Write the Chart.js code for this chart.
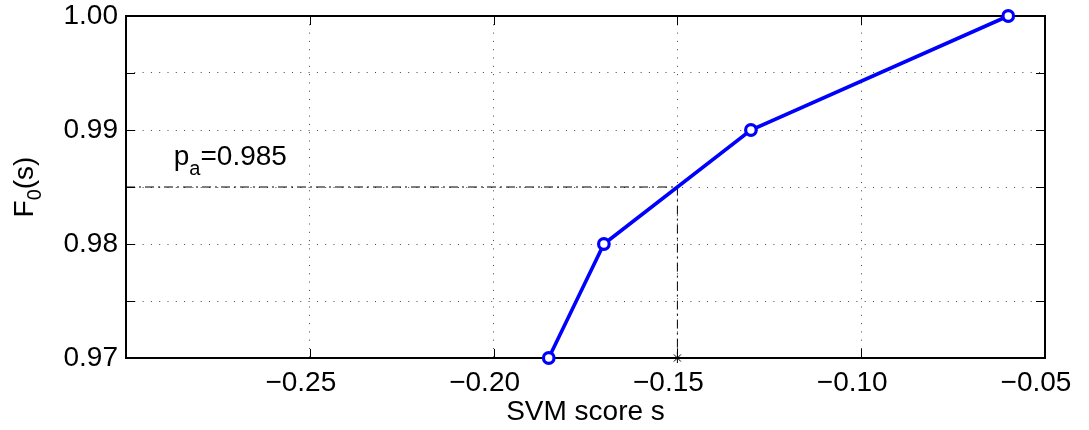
<!DOCTYPE html>
<html>
<head>
<meta charset="utf-8">
<script src="https://cdn.jsdelivr.net/npm/chart.js@4"></script>
<style>
  html, body { margin: 0; padding: 0; background: #fff; }
</style>
</head>
<body>
<canvas id="chart" width="1089" height="430"></canvas>
<script>
// F0(s) against the SVM score
const scores = [-0.185, -0.170, -0.130, -0.060];
const fValues = [0.97, 0.98, 0.99, 1.00];

// operating point p_a
const paLevel = 0.985;
const paScore = -0.15;

const xTicks = [-0.30, -0.25, -0.20, -0.15, -0.10, -0.05];
const yTicks = [0.970, 0.975, 0.980, 0.985, 0.990, 0.995, 1.000];
const xRange = [-0.30, -0.05];
const yRange = [0.97, 1.00];

const FONT = '"Liberation Sans", Arial, Helvetica, sans-serif';

const curve = scores.map((s, i) => ({ x: s, y: fValues[i] }));
const guide = [
  { x: xRange[0], y: paLevel },
  { x: paScore, y: paLevel },
  { x: paScore, y: yRange[0] },
];

// box round the plot with inward ticks on every side
const framePlugin = {
  id: "frame",
  beforeDatasetsDraw(chart) {
    const { ctx, chartArea: a, scales } = chart;
    ctx.save();
    ctx.strokeStyle = "#000";
    ctx.lineWidth = 1;
    ctx.beginPath();
    xTicks.forEach((v) => {
      const px = Math.round(scales.x.getPixelForValue(v)) + 0.5;
      ctx.moveTo(px, a.bottom); ctx.lineTo(px, a.bottom - 9);
      ctx.moveTo(px, a.top); ctx.lineTo(px, a.top + 9);
    });
    yTicks.forEach((v) => {
      const py = Math.round(scales.y.getPixelForValue(v)) + 0.5;
      ctx.moveTo(a.left, py); ctx.lineTo(a.left + 9, py);
      ctx.moveTo(a.right, py); ctx.lineTo(a.right - 9, py);
    });
    ctx.stroke();
    ctx.lineWidth = 2;
    ctx.strokeRect(a.left, a.top, a.right - a.left, a.bottom - a.top);
    ctx.restore();
  },
};

// axis titles and the p_a note, with subscripts
const textPlugin = {
  id: "texts",
  afterDraw(chart) {
    const { ctx, chartArea: a, scales } = chart;
    const big = "28px " + FONT;
    const small = "20px " + FONT;
    ctx.save();
    ctx.fillStyle = "#000";
    ctx.textBaseline = "alphabetic";

    // x title
    ctx.font = big;
    ctx.textAlign = "center";
    ctx.fillText("SVM score s", (a.left + a.right) / 2, 420);

    // y title, rotated
    ctx.textAlign = "left";
    ctx.font = big;
    const wF = ctx.measureText("F").width;
    const wP = ctx.measureText("(s)").width;
    ctx.font = small;
    const w0 = ctx.measureText("0").width;
    const total = wF + w0 + wP;
    ctx.save();
    ctx.translate(33, (a.top + a.bottom) / 2);
    ctx.rotate(-Math.PI / 2);
    ctx.font = big;
    ctx.fillText("F", -total / 2, 0);
    ctx.font = small;
    ctx.fillText("0", -total / 2 + wF, 8);
    ctx.font = big;
    ctx.fillText("(s)", -total / 2 + wF + w0, 0);
    ctx.restore();

    // p_a note
    const nx = scales.x.getPixelForValue(-0.287);
    const ny = scales.y.getPixelForValue(0.9869);
    ctx.font = big;
    ctx.fillText("p", nx, ny);
    const wp = ctx.measureText("p").width;
    ctx.font = small;
    ctx.fillText("a", nx + wp, ny + 10);
    const wa = ctx.measureText("a").width;
    ctx.font = big;
    ctx.fillText("=" + paLevel.toFixed(3), nx + wp + wa, ny);
    ctx.restore();
  },
};

const gridStyle = { color: "#444", lineWidth: 1, drawTicks: false };

new Chart(document.getElementById("chart"), {
  type: "line",
  data: {
    datasets: [
      {
        data: curve,
        borderColor: "#0000ff",
        borderWidth: 3.6,
        pointRadius: 5.3,
        pointBorderWidth: 3.2,
        pointBorderColor: "#0000ff",
        pointBackgroundColor: "#fff",
        tension: 0,
        clip: false,
        order: 0,
      },
      {
        data: guide,
        borderColor: "#000",
        borderWidth: 1,
        borderDash: [9, 4, 2, 4],
        pointRadius: 0,
        tension: 0,
        order: 1,
      },
      {
        data: [{ x: paScore, y: yRange[0] }],
        showLine: false,
        pointStyle: "star",
        pointRadius: 5,
        borderColor: "#000",
        pointBorderWidth: 1,
        clip: false,
        order: 1,
      },
    ],
  },
  options: {
    responsive: false,
    animation: false,
    devicePixelRatio: 1,
    layout: { padding: { left: 0, top: 16, right: 44, bottom: 0 } },
    plugins: { legend: { display: false }, tooltip: { enabled: false } },
    scales: {
      x: {
        type: "linear",
        min: xRange[0],
        max: xRange[1],
        afterBuildTicks: (scale) => { scale.ticks = xTicks.map((v) => ({ value: v })); },
        afterFit: (scale) => {
          scale.height = 72;
          scale.paddingLeft = 0;
          scale.paddingRight = 0;
        },
        grid: gridStyle,
        border: { display: false, dash: [1, 7.3] },
        ticks: {
          padding: 8,
          labelOffset: -9,
          color: "#000",
          font: { family: FONT, size: 28 },
          maxRotation: 0,
          autoSkip: false,
          callback: (v) => (Math.abs(v - xRange[0]) < 1e-9 ? "" : "\u2212" + Math.abs(v).toFixed(2)),
        },
      },
      y: {
        type: "linear",
        min: yRange[0],
        max: yRange[1],
        afterBuildTicks: (scale) => { scale.ticks = yTicks.map((v) => ({ value: v })); },
        afterFit: (scale) => {
          scale.width = 126;
          scale.paddingTop = 0;
          scale.paddingBottom = 0;
        },
        grid: gridStyle,
        border: { display: false, dash: [1, 7.3] },
        ticks: {
          padding: 8,
          color: "#000",
          font: { family: FONT, size: 28 },
          autoSkip: false,
          callback: (v) => (Math.round(v * 1000) % 10 === 0 ? v.toFixed(2) : ""),
        },
      },
    },
  },
  plugins: [framePlugin, textPlugin],
});
</script>
</body>
</html>
